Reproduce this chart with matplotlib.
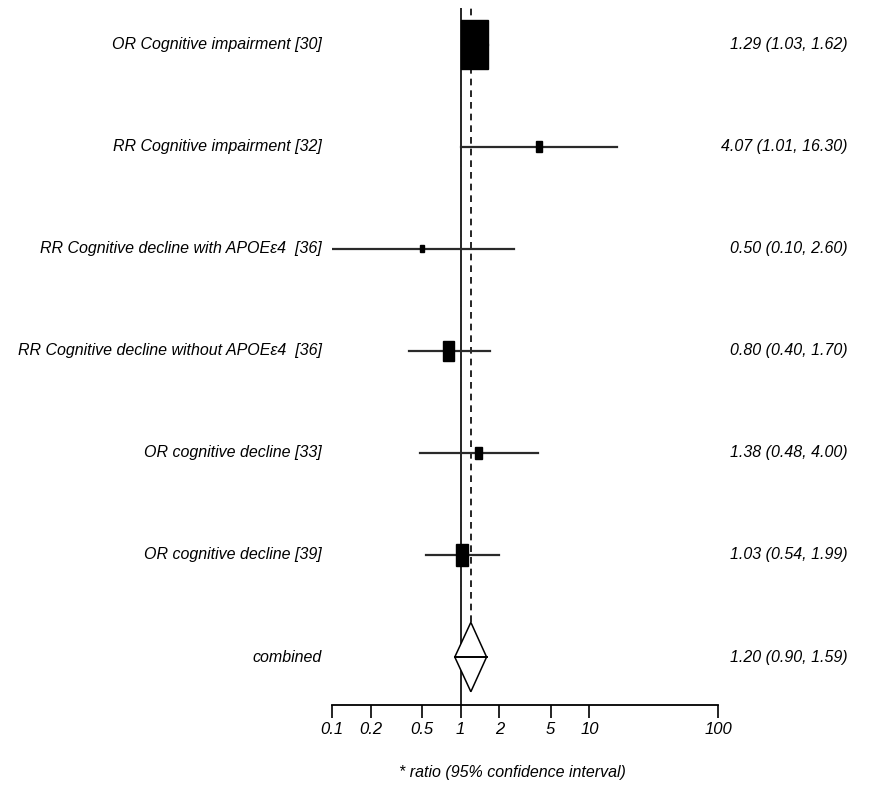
import matplotlib
matplotlib.use("Agg")
import matplotlib.pyplot as plt
import matplotlib.transforms as mtransforms
import numpy as np
from matplotlib.patches import Rectangle, Polygon

labels = ["OR Cognitive impairment [30]",
          "RR Cognitive impairment [32]",
          "RR Cognitive decline with APOEε4  [36]",
          "RR Cognitive decline without APOEε4  [36]",
          "OR cognitive decline [33]",
          "OR cognitive decline [39]"]
estimates = [1.29, 4.07, 0.50, 0.80, 1.38, 1.03]
lower = [1.03, 1.01, 0.10, 0.40, 0.48, 0.54]
upper = [1.62, 16.30, 2.60, 1.70, 4.00, 1.99]
weights = [73.0, 3.6, 1.6, 12.0, 4.9, 14.4]
ci_text = ["1.29 (1.03, 1.62)", "4.07 (1.01, 16.30)", "0.50 (0.10, 2.60)",
           "0.80 (0.40, 1.70)", "1.38 (0.48, 4.00)", "1.03 (0.54, 1.99)"]
comb_label = "combined"
comb_est, comb_lo, comb_hi = 1.20, 0.90, 1.59
comb_text = "1.20 (0.90, 1.59)"
ticks = [0.1, 0.2, 0.5, 1, 2, 5, 10, 100]
tick_labels = ["0.1", "0.2", "0.5", "1", "2", "5", "10", "100"]
xlabel = "* ratio (95% confidence interval)"

FAM = ["Liberation Sans Narrow", "Liberation Sans", "DejaVu Sans"]
FS = 11.5

fig = plt.figure(figsize=(8.7, 7.93), dpi=100)
W, H = 870, 793
left_px, right_px, top_px, bot_px = 332, 718, 8, 705
ax = fig.add_axes([left_px / W, 1 - bot_px / H, (right_px - left_px) / W, (bot_px - top_px) / H])
ax.set_xscale("log")
ax.set_xlim(0.1, 100)
ylo, yhi = 0.53, 7.36
ax.set_ylim(ylo, yhi)
for s in ["top", "right", "left"]:
    ax.spines[s].set_visible(False)
ax.spines["bottom"].set_linewidth(1.3)
ax.set_yticks([])
ax.set_xticks(ticks)
ax.set_xticklabels(tick_labels)
ax.minorticks_off()
ax.tick_params(axis="x", direction="out", length=9, width=1.2, pad=3)
for t in ax.get_xticklabels():
    t.set_fontstyle("italic")
    t.set_family(FAM)
    t.set_fontsize(12)

n = len(labels)
ys = np.arange(n, 0, -1) + 1  # rows from top: 7..2
px_per_dec = (right_px - left_px) / 3.0
px_per_unit = (bot_px - top_px) / (yhi - ylo)

# reference line at 1
ax.axvline(1, color="black", lw=1.2, zorder=1)
# combined
yc = 1
dh = 0.34
# dashed line at combined estimate
ax.plot([comb_est, comb_est], [yc + dh, yhi], color="black", lw=1.2, ls=(0, (4, 3)), zorder=1)

for y, e, lo, hi, w in zip(ys, estimates, lower, upper, weights):
    ax.plot([lo, hi], [y, y], color="#2a2a2a", lw=1.6, zorder=2)
    side = 3.16 * np.sqrt(w)
    hw = side / 2 / px_per_dec
    hh = side * 1.8 / 2 / px_per_unit
    ax.add_patch(Rectangle((e / 10 ** hw, y - hh), e * 10 ** hw - e / 10 ** hw, 2 * hh,
                           facecolor="black", edgecolor="black", zorder=3))

ax.add_patch(Polygon([[comb_lo, yc], [comb_est, yc + dh], [comb_hi, yc], [comb_est, yc - dh]],
                     closed=True, facecolor="white", edgecolor="black", lw=1.1, zorder=3))
ax.plot([comb_lo, comb_hi], [yc, yc], color="black", lw=1.4, zorder=4)

trans = mtransforms.blended_transform_factory(fig.transFigure, ax.transData)
for y, lab, ct in zip(list(ys) + [yc], labels + [comb_label], ci_text + [comb_text]):
    ax.text(322 / W, y, lab, transform=trans, ha="right", va="center", fontsize=FS,
            style="italic", family=FAM, clip_on=False)
    ax.text(848 / W, y, ct, transform=trans, ha="right", va="center", fontsize=FS,
            style="italic", family=FAM, clip_on=False)

fig.text(512 / W, 1 - 773 / H, xlabel, ha="center", va="center", fontsize=FS,
         style="italic", family=FAM)

fig.savefig("out.png", dpi=100)
